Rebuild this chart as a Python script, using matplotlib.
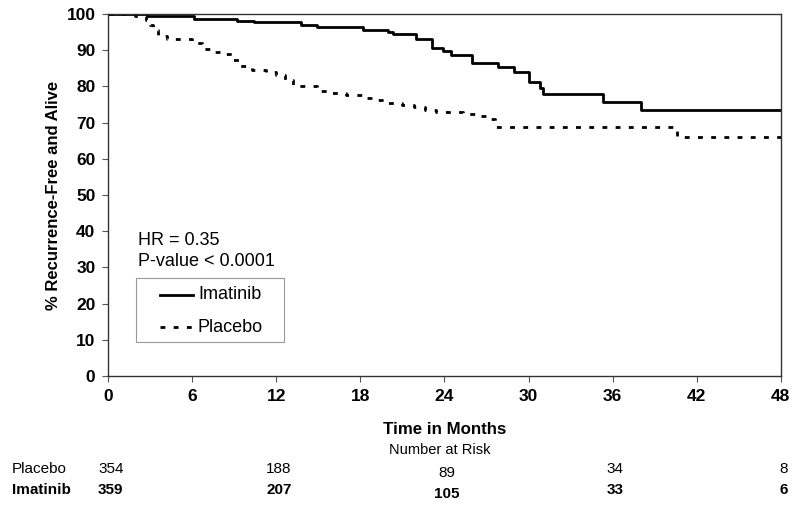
import matplotlib
matplotlib.use("Agg")
import matplotlib.pyplot as plt
from matplotlib.lines import Line2D
from matplotlib.patches import Rectangle
from matplotlib import transforms

plt.rcParams['lines.scale_dashes'] = False

# Data
imatinib_t = [0, 2.8, 6.1, 9.2, 10.4, 13.8, 14.9, 18.2, 20.0, 20.3, 22.0, 23.1, 23.9,
              24.5, 26.0, 27.8, 29.0, 30.05, 30.8, 31.0, 35.3, 38.0, 48]
imatinib_s = [100, 99.5, 98.6, 98.2, 97.7, 97.0, 96.3, 95.7, 95.0, 94.5, 93.0, 90.7, 89.8,
              88.8, 86.6, 85.3, 84.1, 81.3, 79.5, 77.8, 75.8, 73.5, 73.5]

placebo_t = [0, 1.9, 2.7, 3.0, 3.2, 3.6, 4.2, 6.0, 6.7, 7.5, 8.4, 8.9, 9.4, 10.3, 11.3,
             12.0, 12.6, 13.2, 14.9, 15.7, 17.0, 18.5, 19.2, 20.0, 21.0, 21.8, 22.6,
             23.4, 24.5, 25.3, 26.2, 27.0, 27.6, 40.6, 48]
placebo_s = [100, 99.5, 98.3, 97.0, 95.6, 94.0, 93.1, 91.9, 90.2, 89.6, 88.9, 87.3, 85.6,
             84.5, 84.0, 83.1, 81.8, 80.2, 78.8, 78.1, 77.5, 76.8, 76.3, 75.3, 74.9, 74.4,
             73.6, 73.0, 72.8, 72.3, 71.9, 71.0, 68.9, 65.9, 65.9]

risk_months = [0, 12, 24, 36, 48]
risk_placebo = [354, 188, 89, 34, 8]
risk_imatinib = [359, 207, 105, 33, 6]

x_ticks = [0, 6, 12, 18, 24, 30, 36, 42, 48]
y_ticks = [0, 10, 20, 30, 40, 50, 60, 70, 80, 90, 100]

arial = ['Liberation Sans', 'DejaVu Sans']
LW = 2.0
DASH = (0, (3.5, 6.0))

fig = plt.figure(figsize=(8, 5.05), dpi=100)
ax = fig.add_axes([0.135, 0.2554, 0.841, 0.7169])

ax.step(imatinib_t, imatinib_s, where='post', color='black', lw=LW, label='Imatinib')
ax.step(placebo_t, placebo_s, where='post', color='black', lw=LW,
        linestyle=DASH, label='Placebo')

ax.set_xlim(0, 48)
ax.set_ylim(0, 100)
ax.set_xticks(x_ticks)
ax.set_yticks(y_ticks)
for lab in ax.get_xticklabels() + ax.get_yticklabels():
    lab.set_fontfamily(arial)
    lab.set_fontweight('bold')
    lab.set_fontsize(12.5)
ax.tick_params(axis='both', direction='out', length=4, width=0.8, color='#555555', pad=5)
for s in ax.spines.values():
    s.set_color('#333333')
    s.set_linewidth(1.0)

ax.set_ylabel('% Recurrence-Free and Alive', fontfamily=arial, fontweight='bold',
              fontsize=12, labelpad=4)

ax.text(0.045, 0.375, 'HR = 0.35', transform=ax.transAxes, fontfamily=arial, fontsize=13,
        va='center', ha='left')
ax.text(0.045, 0.317, 'P-value < 0.0001', transform=ax.transAxes, fontfamily=arial,
        fontsize=13, va='center', ha='left')

# legend box drawn manually to match the reference placement
ax.add_patch(Rectangle((0.0416, 0.0939), 0.2199, 0.1768, transform=ax.transAxes,
                       facecolor='white', edgecolor='#999999', lw=0.8, zorder=3))
ax.add_line(Line2D([0.0773, 0.1263], [0.2238, 0.2238], transform=ax.transAxes,
                   color='black', lw=LW, zorder=4))
ax.add_line(Line2D([0.0773, 0.1263], [0.1354, 0.1354], transform=ax.transAxes,
                   color='black', lw=LW, linestyle=DASH, zorder=4))
ax.text(0.1337, 0.2238, 'Imatinib', transform=ax.transAxes, fontfamily=arial, fontsize=13,
        va='center', ha='left', zorder=4)
ax.text(0.1337, 0.1354, 'Placebo', transform=ax.transAxes, fontfamily=arial, fontsize=13,
        va='center', ha='left', zorder=4)

fig.text(0.556, 1 - 430 / 505, 'Time in Months', fontfamily=arial, fontweight='bold',
         fontsize=12.2, ha='center', va='center')
fig.text(0.55, 1 - 450 / 505, 'Number at Risk', fontfamily=arial, fontsize=10.5,
         ha='center', va='center')

trans = transforms.blended_transform_factory(ax.transData, fig.transFigure)
fig.text(0.015, 1 - 469 / 505, 'Placebo', fontfamily=arial, fontsize=11, ha='left', va='center')
fig.text(0.015, 1 - 490 / 505, 'Imatinib', fontfamily=arial, fontsize=11, fontweight='bold',
         ha='left', va='center')
for m, p, i in zip(risk_months, risk_placebo, risk_imatinib):
    off = 4 if m == 24 else 0
    ax.text(m + 0.2, 1 - (469 + off) / 505, str(p), transform=trans, fontfamily=arial,
            fontsize=11, ha='center', va='center', clip_on=False)
    ax.text(m + 0.2, 1 - (490 + off) / 505, str(i), transform=trans, fontfamily=arial,
            fontsize=11, fontweight='bold', ha='center', va='center', clip_on=False)

fig.savefig('out.png', dpi=100)
